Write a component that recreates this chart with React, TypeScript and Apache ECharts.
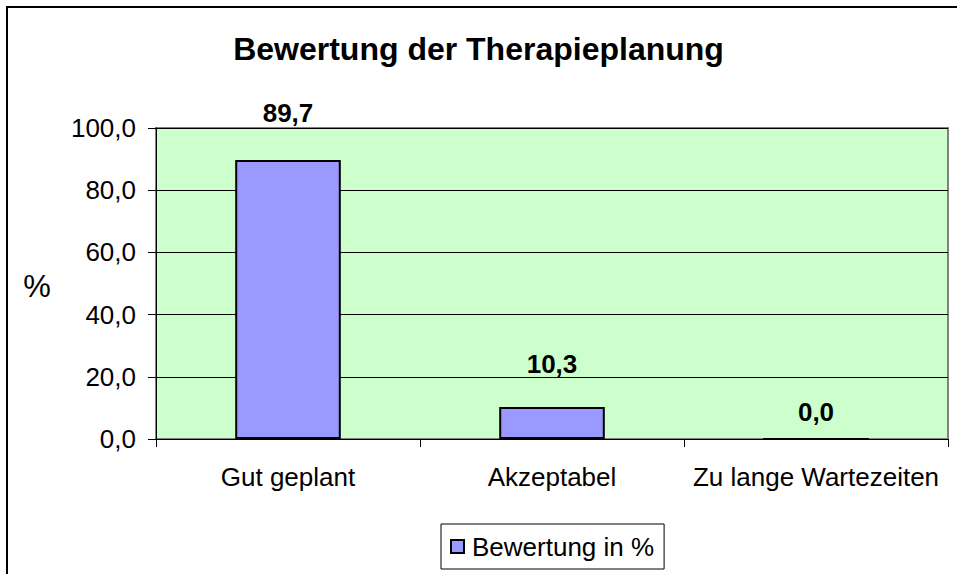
import React, { useEffect, useRef } from "react";
import * as echarts from "echarts";

const title = "Bewertung der Therapieplanung";
const categories = ["Gut geplant", "Akzeptabel", "Zu lange Wartezeiten"];
const seriesName = "Bewertung in %";
const values = [89.7, 10.3, 0.0];
const yAxisName = "%";

const fmt = (v: number) => v.toFixed(1).replace(".", ",");
const FONT = "Liberation Sans, Arial, sans-serif";
const labelDistances = [34, 30, 13];

export default function App() {
  const ref = useRef<HTMLDivElement>(null);
  useEffect(() => {
    if (!ref.current) return;
    const chart = echarts.init(ref.current, undefined, { renderer: "svg" });
    chart.setOption({
      animation: false,
      backgroundColor: "#ffffff",
      textStyle: { fontFamily: FONT },
      title: {
        text: title,
        left: "center",
        top: 28,
        textStyle: { fontFamily: FONT, fontSize: 32, fontWeight: "bold", color: "#000" },
      },
      graphic: [
        {
          type: "rect",
          shape: { x: 7, y: 7, width: 1200, height: 1200 },
          style: { fill: "none", stroke: "#000", lineWidth: 2 },
          silent: true,
        },
        {
          type: "text",
          x: 37,
          y: 286,
          style: {
            text: yAxisName,
            fontFamily: FONT,
            fontSize: 31,
            fill: "#000",
            textAlign: "center",
            textVerticalAlign: "middle",
          },
        },
      ],
      legend: {
        left: 441,
        top: 524,
        orient: "horizontal",
        padding: [8, 10, 8, 9],
        borderColor: "#000",
        borderWidth: 1,
        backgroundColor: "#fff",
        itemWidth: 13,
        itemHeight: 13,
        icon: "rect",
        textStyle: { fontFamily: FONT, fontSize: 26, color: "#000", lineHeight: 29, padding: [0, 0, 0, 3] },
        data: [seriesName],
      },
      grid: {
        left: 156,
        top: 128,
        width: 792,
        height: 311,
        show: true,
        backgroundColor: "#CCFFCC",
        borderColor: "#808080",
        borderWidth: 2,
      },
      xAxis: {
        type: "category",
        data: categories,
        axisLine: { show: true, lineStyle: { color: "#000", width: 1 } },
        axisTick: { show: true, length: 8, alignWithLabel: false, lineStyle: { color: "#000" } },
        axisLabel: { color: "#000", fontFamily: FONT, fontSize: 26, margin: 25, interval: 0 },
        splitLine: { show: false },
      },
      yAxis: {
        type: "value",
        min: 0,
        max: 100,
        interval: 20,
        axisLine: { show: true, lineStyle: { color: "#000", width: 1 } },
        axisTick: { show: true, length: 8, lineStyle: { color: "#000" } },
        axisLabel: { color: "#000", fontFamily: FONT, fontSize: 26, margin: 20, formatter: (v: number) => fmt(v) },
        splitLine: { show: true, lineStyle: { color: "#000", width: 1 } },
      },
      series: [
        {
          name: seriesName,
          type: "bar",
          barWidth: "40%",
          itemStyle: { color: "#9999FF", borderColor: "#000", borderWidth: 2 },
          label: {
            show: true,
            position: "top",
            color: "#000",
            fontFamily: FONT,
            fontSize: 26,
            fontWeight: "bold",
            formatter: (p: any) => fmt(p.value),
          },
          data: values.map((v, i) => ({
            value: v,
            label: { distance: labelDistances[i] },
          })),
        },
      ],
    });
    return () => chart.dispose();
  }, []);
  return (
    <div
      ref={ref}
      style={{ position: "fixed", left: 0, top: 0, width: 957, height: 574 }}
    />
  );
}
